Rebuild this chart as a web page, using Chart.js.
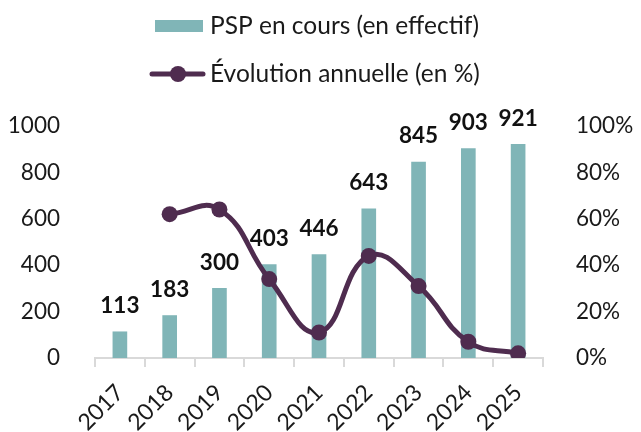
<!DOCTYPE html>
<html>
<head>
<meta charset="utf-8">
<script src="https://cdn.jsdelivr.net/npm/chart.js@4"></script>
<style>
  html, body { margin: 0; padding: 0; background: #fff; }
  #wrap { width: 641px; height: 432px; }
</style>
</head>
<body>
<div id="wrap"><canvas id="c" width="641" height="432"></canvas></div>
<script>
const years = ['2017', '2018', '2019', '2020', '2021', '2022', '2023', '2024', '2025'];
const pspCount = [113, 183, 300, 403, 446, 643, 845, 903, 921];
const growthPct = [null, 62, 64, 34, 11, 44, 31, 7, 2];
const leftTicks = [0, 200, 400, 600, 800, 1000];
const rightTicks = [0, 20, 40, 60, 80, 100];

const barColor = '#80b5b7';
const lineColor = '#4f2c4f';
const fontFamily = 'Lato, "Open Sans", sans-serif';

// legend drawn by hand: box / line+marker then text, two centred rows
const legendPlugin = {
  id: 'legendRows',
  afterDraw(chart) {
    const ctx = chart.ctx;
    ctx.save();
    ctx.font = '24.5px ' + fontFamily;
    ctx.textBaseline = 'middle';
    // row 1
    ctx.fillStyle = barColor;
    ctx.fillRect(155, 20, 48, 12);
    ctx.fillStyle = '#1a1a1a';
    ctx.fillText('PSP en cours (en effectif)', 210, 26);
    // row 2
    ctx.strokeStyle = lineColor;
    ctx.lineWidth = 5;
    ctx.lineCap = 'round';
    ctx.beginPath();
    ctx.moveTo(152, 74);
    ctx.lineTo(203, 74);
    ctx.stroke();
    ctx.fillStyle = lineColor;
    ctx.beginPath();
    ctx.arc(178, 74, 8, 0, Math.PI * 2);
    ctx.fill();
    ctx.fillStyle = '#1a1a1a';
    ctx.fillText('Évolution annuelle (en %)', 210, 74);
    ctx.restore();
  }
};

// bold value labels above each bar
const barLabels = {
  id: 'barLabels',
  afterDatasetsDraw(chart) {
    const ctx = chart.ctx;
    const meta = chart.getDatasetMeta(1);
    ctx.save();
    ctx.font = 'bold 22.5px ' + fontFamily;
    ctx.textAlign = 'center';
    ctx.textBaseline = 'middle';
    ctx.fillStyle = '#111';
    meta.data.forEach((bar, i) => {
      ctx.fillText(String(pspCount[i]), bar.x, bar.y - 26);
    });
    ctx.restore();
  }
};

new Chart(document.getElementById('c'), {
  data: {
    labels: years,
    datasets: [
      {
        type: 'line',
        label: 'Évolution annuelle (en %)',
        data: growthPct,
        yAxisID: 'y2',
        borderColor: lineColor,
        backgroundColor: lineColor,
        borderWidth: 5,
        tension: 0.45,
        pointRadius: 8,
        pointHoverRadius: 8,
        pointBackgroundColor: lineColor,
        pointBorderWidth: 0,
        order: 0
      },
      {
        type: 'bar',
        label: 'PSP en cours (en effectif)',
        data: pspCount,
        yAxisID: 'y',
        backgroundColor: barColor,
        barThickness: 14,
        order: 1
      }
    ]
  },
  options: {
    responsive: false,
    animation: false,
    layout: { padding: { top: 126, left: 0, right: 0, bottom: 0 } },
    plugins: {
      legend: { display: false },
      tooltip: { enabled: false }
    },
    scales: {
      x: {
        offset: true,
        grid: {
          offset: true,
          drawOnChartArea: false,
          drawTicks: true,
          tickLength: 9,
          color: '#d9d9d9',
          lineWidth: 2
        },
        border: { color: '#d9d9d9', width: 2 },
        ticks: {
          color: '#1a1a1a',
          font: { family: fontFamily, size: 23 },
          minRotation: 45,
          maxRotation: 45,
          padding: 12
        },
        afterFit(s) { s.height = 74; }
      },
      y: {
        position: 'left',
        min: 0,
        max: 1000,
        afterBuildTicks(s) { s.ticks = leftTicks.map(v => ({ value: v })); },
        grid: { display: false },
        border: { display: false },
        ticks: {
          color: '#1a1a1a',
          font: { family: fontFamily, size: 22.5 },
          padding: 27,
          callback: v => String(v)
        },
        afterFit(s) { s.width = 95; }
      },
      y2: {
        position: 'right',
        min: 0,
        max: 100,
        afterBuildTicks(s) { s.ticks = rightTicks.map(v => ({ value: v })); },
        grid: { display: false },
        border: { display: false },
        ticks: {
          color: '#1a1a1a',
          font: { family: fontFamily, size: 22.5 },
          padding: 25,
          callback: v => v + '%'
        },
        afterFit(s) { s.width = 98; }
      }
    }
  },
  plugins: [legendPlugin, barLabels]
});
</script>
</body>
</html>
